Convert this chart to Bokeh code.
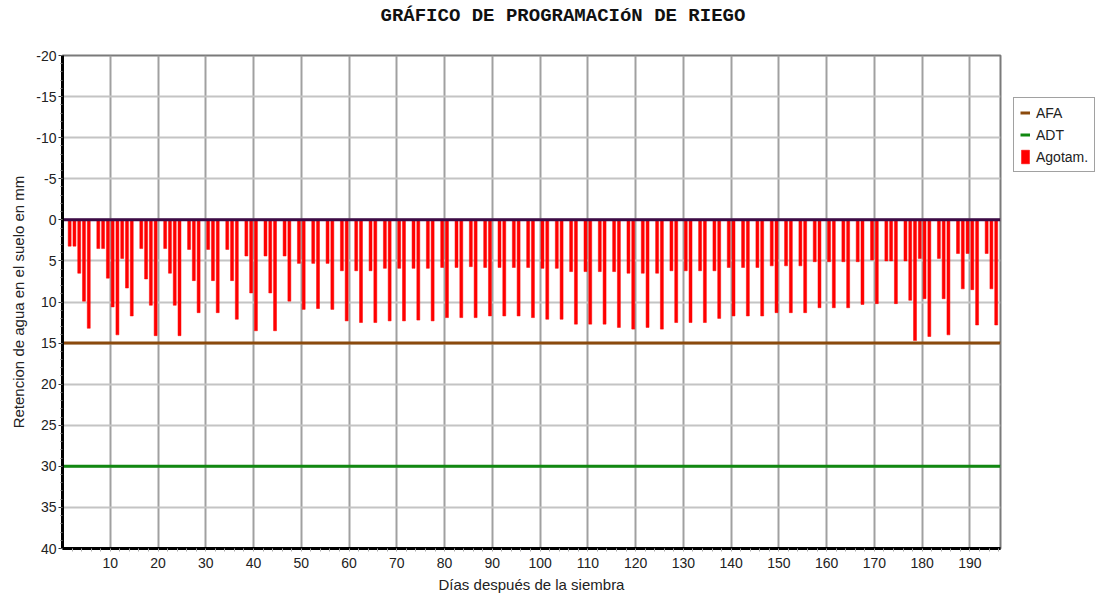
from bokeh.plotting import figure
from bokeh.models import (Range1d, Legend, LegendItem, ColumnDataSource, FixedTicker, Title,
                          NumeralTickFormatter)
from bokeh.transform import dodge
from bokeh.embed import file_html
from bokeh.resources import INLINE

# ---------------- data ----------------
days = [1, 2, 3, 4, 5, 7, 8, 9, 10, 11, 12, 13, 14, 16, 17, 18, 19, 21, 22, 23, 24,
        26, 27, 28, 30, 31, 32, 34, 35, 36, 38, 39, 40, 42, 43, 44, 46, 47, 49, 50,
        52, 53, 55, 56, 58, 59, 61, 62, 64, 65, 67, 68, 70, 71, 73, 74, 76, 77, 79, 80,
        82, 83, 85, 86, 88, 89, 91, 92, 94, 95, 97, 98, 100, 101, 103, 104, 106, 107,
        109, 110, 112, 113, 115, 116, 118, 119, 121, 122, 124, 125, 127, 128, 130, 131,
        133, 134, 136, 137, 139, 140, 142, 143, 145, 146, 148, 149, 151, 152, 154, 155,
        157, 158, 160, 161, 163, 164, 166, 167, 169, 170, 172, 173, 174, 176, 177, 178,
        179, 180, 181, 183, 184, 185, 187, 188, 189, 190, 191, 193, 194, 195]
agotam = [3.2, 3.2, 6.5, 9.9, 13.2, 3.5, 3.5, 7.1, 10.6, 14.0, 4.7, 8.3, 11.7, 3.5, 7.2, 10.4, 14.1,
          3.5, 6.5, 10.4, 14.1, 3.6, 7.4, 11.3, 3.6, 7.4, 11.3, 3.6, 7.4, 12.1, 4.4, 8.9, 13.5,
          4.4, 8.9, 13.5, 4.4, 9.9, 5.3, 10.9, 5.3, 10.8, 5.3, 10.9, 6.2, 12.3, 6.2, 12.5,
          6.2, 12.5, 5.9, 12.3, 5.9, 12.3, 5.9, 12.2, 5.9, 12.3, 5.8, 11.9, 5.8, 11.9, 5.7, 11.9,
          5.8, 11.7, 5.8, 11.7, 5.8, 11.7, 5.8, 11.9, 5.9, 12.1, 5.9, 12.1, 6.3, 12.7, 6.3, 12.7,
          6.3, 12.7, 6.3, 13.1, 6.5, 13.3, 6.5, 13.1, 6.5, 13.3, 6.2, 12.5, 6.2, 12.5, 6.2, 12.5,
          6.2, 12.0, 5.8, 11.7, 5.8, 11.7, 5.8, 11.7, 5.6, 11.3, 5.6, 11.3, 5.6, 11.3,
          5.1, 10.7, 5.1, 10.7, 5.1, 10.7, 5.1, 10.3, 4.9, 10.2, 5.0, 5.0, 10.2, 5.0, 9.8, 14.7,
          4.7, 9.6, 14.2, 4.7, 9.6, 14.0, 4.1, 8.4, 4.1, 8.5, 12.8, 4.1, 8.4, 12.8]

AFA = 15.0
ADT = 30.0
ZERO = 0.0

X_START, X_END = 0.0, 196.4
Y_TOP, Y_BOTTOM = -20, 40
x_ticks = list(range(10, 200, 10))
x_minor = list(range(2, 197, 2))
y_ticks = list(range(-20, 45, 5))
y_minor = list(range(-20, 41, 1))

FONT = "Liberation Sans"

src = ColumnDataSource(dict(day=days, agotam=agotam, base=[ZERO] * len(days)))

p = figure(frame_width=938, frame_height=493,
           x_range=Range1d(X_START, X_END), y_range=Range1d(Y_BOTTOM, Y_TOP),
           output_backend="svg", toolbar_location=None,
           min_border_left=62, min_border_right=100, min_border_top=0,
           min_border_bottom=0, background_fill_color="white",
           border_fill_color="white")

# titles: spacer next to the frame, main title above it
spacer = Title(text=" ", text_font_size="8px")
main_title = Title(text="GRÁFICO DE PROGRAMACIóN DE RIEGO", align="left", offset=318,
                   text_font="Liberation Mono", text_font_size="19px",
                   text_font_style="bold", text_color="#111111")
try:
    spacer.standoff = 15
    main_title.standoff = 5
except Exception:
    pass
p.add_layout(spacer, "above")
p.add_layout(main_title, "above")

# grids
p.xgrid.ticker = FixedTicker(ticks=x_ticks)
p.ygrid.ticker = FixedTicker(ticks=y_ticks)
p.xgrid.grid_line_color = "#a0a0a0"
p.xgrid.grid_line_width = 2
p.ygrid.grid_line_color = "#c4c4c4"
p.ygrid.grid_line_width = 2

p.outline_line_color = "#7a7a7a"
p.outline_line_width = 2

# axes
p.xaxis.ticker = FixedTicker(ticks=x_ticks, minor_ticks=x_minor)
p.yaxis.ticker = FixedTicker(ticks=y_ticks, minor_ticks=y_minor)
p.yaxis.formatter = NumeralTickFormatter(format="0")
p.xaxis.formatter = NumeralTickFormatter(format="0")
for ax in (p.xaxis[0], p.yaxis[0]):
    ax.axis_line_color = "black"
    ax.axis_line_width = 3
    ax.major_label_text_font = FONT
    ax.major_label_text_font_size = "14px"
    ax.major_label_text_color = "#222222"
    ax.axis_label_text_font = FONT
    ax.axis_label_text_font_size = "15px"
    ax.axis_label_text_font_style = "normal"
    ax.axis_label_text_color = "#222222"

p.xaxis.axis_label = "Días después de la siembra"
p.xaxis.major_tick_in = 0
p.xaxis.major_tick_out = 0
p.xaxis.minor_tick_in = 0
p.xaxis.minor_tick_out = 3
p.xaxis.minor_tick_line_color = "#aaaaaa"
p.xaxis.major_label_standoff = 6
p.xaxis.axis_label_standoff = 5

p.yaxis.axis_label = "Retencion de agua en el suelo en mm"
p.yaxis.major_tick_in = 0
p.yaxis.major_tick_out = 4
p.yaxis.major_tick_line_color = "#333333"
p.yaxis.minor_tick_in = 0
p.yaxis.minor_tick_out = 2
p.yaxis.minor_tick_line_color = "#666666"
p.yaxis.major_label_standoff = 2
p.yaxis.axis_label_standoff = 6

# bars (Agotamiento)
r_bar = p.vbar(x=dodge("day", 0.5, range=p.x_range), top="agotam", bottom="base",
               width=0.62, source=src, fill_color="#ff0000", line_color="#ff0000",
               line_width=0.5)

# reference lines
r_zero = p.line(x=[X_START, X_END], y=[ZERO, ZERO], line_color="#3c0a46", line_width=3)
r_afa = p.line(x=[X_START, X_END], y=[AFA, AFA], line_color="#8b4a0c", line_width=3)
r_adt = p.line(x=[X_START, X_END], y=[ADT, ADT], line_color="#118811", line_width=3)

legend = Legend(items=[LegendItem(label="AFA", renderers=[r_afa]),
                       LegendItem(label="ADT", renderers=[r_adt]),
                       LegendItem(label="Agotam.", renderers=[r_bar])],
                location=(13, 376), orientation="vertical",
                label_text_font=FONT, label_text_font_size="14px",
                label_text_color="#222222",
                glyph_width=10, glyph_height=17, label_standoff=6, spacing=5,
                padding=6, margin=0,
                border_line_color="#444444", border_line_width=1,
                background_fill_color="white", background_fill_alpha=1.0)
p.add_layout(legend, "right")

open("out.html", "w").write(file_html(p, INLINE))
